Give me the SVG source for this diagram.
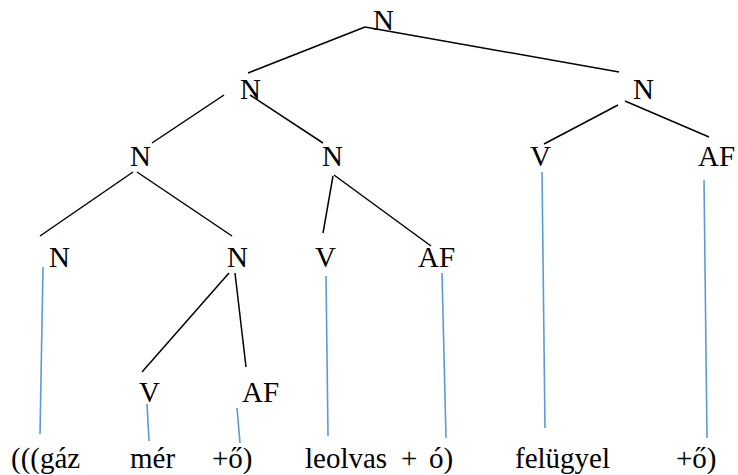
<svg xmlns="http://www.w3.org/2000/svg" width="738" height="475" viewBox="0 0 738 475">
<style>
text{font-family:'Liberation Serif','DejaVu Serif',serif;font-size:29px;fill:#000}
.e{stroke:#000;stroke-width:1.5;fill:none}
.b{stroke:#5b9bd5;stroke-width:1.6;fill:none}
</style>
<rect width="738" height="475" fill="#fff"/>
<g id="connectors">
<line class="e" x1="365" y1="27" x2="248" y2="73"/>
<line class="e" x1="365" y1="27" x2="619" y2="72"/>
<line class="e" x1="224" y1="95" x2="152" y2="143"/>
<line class="e" x1="250" y1="95" x2="323" y2="143"/>
<line class="e" x1="133" y1="172" x2="40" y2="236"/>
<line class="e" x1="137" y1="172" x2="232" y2="236"/>
<line class="e" x1="333" y1="176" x2="323" y2="233"/>
<line class="e" x1="334" y1="175" x2="431" y2="246"/>
<line class="e" x1="618" y1="105" x2="544" y2="144"/>
<line class="e" x1="625" y1="101" x2="709" y2="137"/>
<line class="e" x1="229" y1="273" x2="142" y2="372"/>
<line class="e" x1="235" y1="273" x2="246" y2="367"/>
<line class="b" x1="43" y1="267" x2="40" y2="434"/>
<line class="b" x1="147" y1="404" x2="149" y2="441"/>
<line class="b" x1="237" y1="408" x2="240" y2="443"/>
<line class="b" x1="326" y1="276" x2="328" y2="436"/>
<line class="b" x1="442" y1="273" x2="446" y2="438"/>
<line class="b" x1="542" y1="172" x2="545" y2="428"/>
<line class="b" x1="704" y1="180" x2="707" y2="438"/>
</g>
<g font-family="Liberation Serif, DejaVu Serif, serif">
<g id="n-root"><text x="373" y="30">N</text></g>
<g id="n-l1"><text x="240" y="99">N</text></g>
<g id="n-r1"><text x="633" y="99">N</text></g>
<g id="n-l2a"><text x="130" y="166">N</text></g>
<g id="n-l2b"><text x="322" y="166">N</text></g>
<g id="v-r2"><text x="530" y="166">V</text></g>
<g id="af-r2"><text x="698" y="166">AF</text></g>
<g id="n-l3a"><text x="49" y="267">N</text></g>
<g id="n-l3b"><text x="227" y="267">N</text></g>
<g id="v-l3"><text x="315" y="267">V</text></g>
<g id="af-l3"><text x="418" y="267">AF</text></g>
<g id="v-l4"><text x="139" y="402">V</text></g>
<g id="af-l4"><text x="242" y="402">AF</text></g>
<g id="words">
<text x="11" y="468">(((gáz</text>
<text x="130" y="468">mér</text>
<text x="212" y="468">+ő)</text>
<text y="468"><tspan x="305">leolvas</tspan><tspan x="401">+</tspan><tspan x="429">ó)</tspan></text>
<text x="515" y="468">felügyel</text>
<text x="676" y="468">+ő)</text>
</g>
</g>
</svg>
